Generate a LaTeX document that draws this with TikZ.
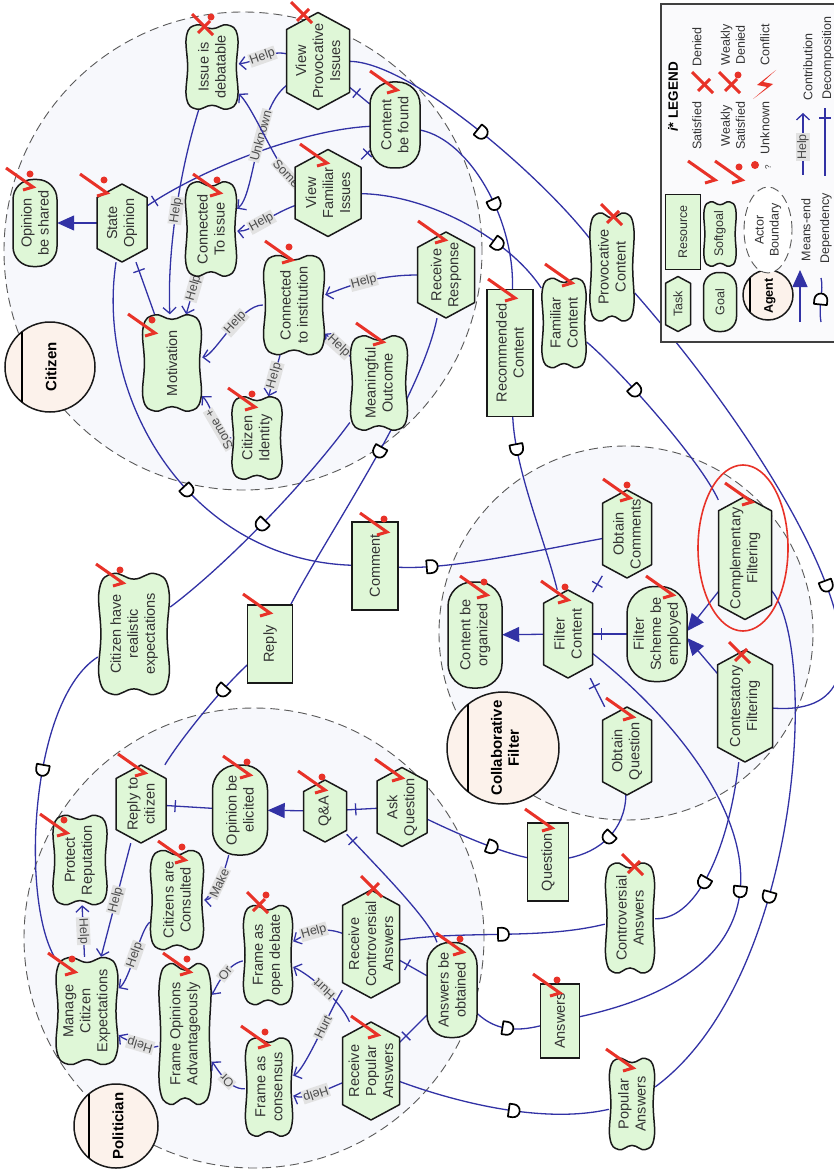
\documentclass[tikz,border=0pt]{standalone}
\usepackage{fontspec}
\setmainfont{Liberation Sans}
\usetikzlibrary{arrows.meta,decorations.markings}
\pgfdeclarelayer{bg}
\pgfdeclarelayer{lnk}
\pgfsetlayers{bg,lnk,main}
\definecolor{iblue}{RGB}{50,50,165}
\definecolor{ngreen}{RGB}{223,247,215}
\definecolor{bfill}{RGB}{247,248,252}
\definecolor{afill}{RGB}{252,242,235}
\definecolor{mred}{RGB}{232,50,40}
\definecolor{lgray}{RGB}{226,226,226}
\definecolor{legbg}{RGB}{250,250,252}
\newcommand\nodefont{\fontsize{14.5}{17}\selectfont}
\newcommand\legfont{\fontsize{12.5}{15}\selectfont}
\newcommand\dsym{\draw[black,line width=1.7pt,fill=white,line join=round] (-4.5pt,-6.5pt) -- (0pt,-6.5pt) arc[start angle=-90,end angle=90,radius=6.5pt] -- (-4.5pt,6.5pt) -- cycle;}
\tikzset{
  shp/.style={fill=ngreen, draw=black!90, line width=1.5pt, line join=round},
  txt/.style={rotate=90, align=center, inner sep=0pt, text=black!80, font=\nodefont},
  legtxt/.style={rotate=90, align=center, inner sep=0pt, text=black!80, font=\legfont},
  lk/.style={draw=iblue, line width=1.3pt},
  help/.style={lk, -{Straight Barb[length=6pt,width=13pt]}},
  meansend/.style={lk, -{Triangle[length=17pt,width=15pt]}},
  lbl/.style={fill=lgray, text=black!70, font=\fontsize{12.5}{13}\selectfont, inner sep=1pt, sloped},
  decomp/.style={lk, postaction={decorate}, decoration={markings, mark=at position 9pt with {\draw[iblue, line width=1.3pt] (0pt,-6pt) -- (0pt,6pt);}}},
  dep/.style={lk, postaction={decorate}, decoration={markings, mark=at position #1 with {\dsym}}},
  bdry/.style={fill=bfill, draw=black!65, line width=0.9pt, dash pattern=on 9pt off 5pt},
  agent/.style={fill=afill, draw=black!90, line width=1.5pt},
  agtxt/.style={rotate=90, align=center, inner sep=0pt, font=\fontsize{15}{17}\selectfont\bfseries},
  mk/.style={draw=mred, line width=3pt},
}
\newcommand\goalnode[6]{%
  \pgfmathsetmacro\gkr{0.45*#4}%
  \filldraw[shp, rounded corners=\gkr pt] (#2-#4/2,#3-#5/2) rectangle (#2+#4/2,#3+#5/2);
  \node[txt, minimum width=#5pt, minimum height=#4pt] (#1) at (#2,#3) {#6};}
\newcommand\tasknode[6]{%
  \pgfmathsetmacro\tkd{0.27*#4}%
  \filldraw[shp] (#2-#4/2,#3-#5/2+\tkd) -- (#2,#3-#5/2) -- (#2+#4/2,#3-#5/2+\tkd) -- (#2+#4/2,#3+#5/2-\tkd) -- (#2,#3+#5/2) -- (#2-#4/2,#3+#5/2-\tkd) -- cycle;
  \node[txt, minimum width=#5pt, minimum height=#4pt] (#1) at (#2,#3) {#6};}
\newcommand\resnode[6]{%
  \filldraw[shp, line join=miter] (#2-#4/2,#3-#5/2) rectangle (#2+#4/2,#3+#5/2);
  \node[txt, minimum width=#5pt, minimum height=#4pt] (#1) at (#2,#3) {#6};}
\newcommand\sgoal[6]{%
  \pgfmathsetmacro\sgx{#4/2}\pgfmathsetmacro\sgy{#5/2}%
  \filldraw[shp, shift={(#2,#3)}, xscale=\sgx, yscale=\sgy] plot[smooth cycle, tension=0.75] coordinates {(0,-0.9) (0.58,-0.99) (0.96,-0.74) (0.92,0) (0.96,0.74) (0.58,0.99) (0,0.9) (-0.58,0.99) (-0.96,0.74) (-0.92,0) (-0.96,-0.74) (-0.58,-0.99)};
  \node[txt, minimum width=#5pt, minimum height=#4pt] (#1) at (#2,#3) {#6};}
\newcommand\satm[2]{\draw[mk] (#1-27,#2-19) -- (#1,#2) -- (#1-10,#2+3);}
\newcommand\wsatm[2]{\satm{#1}{#2}\fill[mred] (#1-3,#2-13) circle[radius=3.5pt];}
\newcommand\denm[2]{\draw[mk] (#1-21,#2-21) -- (#1,#2); \draw[mk] (#1-15,#2-2) -- (#1-3,#2-14);}
\newcommand\wdenm[2]{\denm{#1}{#2}\fill[mred] (#1-2,#2-18) circle[radius=3.5pt];}

\begin{document}
\begin{tikzpicture}[x=1pt,y=-1pt]
\useasboundingbox (0,0) rectangle (834,1169);
\begin{pgfonlayer}{bg}
\fill[white] (0,0) rectangle (834,1169);
\filldraw[bdry] (243,251) circle[radius=239pt];
\filldraw[bdry] (626,633) circle[radius=187pt];
\filldraw[bdry] (254,938) circle[radius=230pt];
\end{pgfonlayer}

% agents
\filldraw[agent] (50,367) circle[radius=45pt];
\draw[line width=1.5pt] (22,332) -- (22,402);
\node[agtxt] (citizen) at (51,367) {Citizen};
\filldraw[agent] (503,748) circle[radius=56pt];
\draw[line width=1.5pt] (468,704) -- (468,792);
\node[agtxt] (collab) at (505,748) {Collaborative\\Filter};
\filldraw[agent] (116,1126) circle[radius=42pt];
\draw[line width=1.5pt] (89,1094) -- (89,1158);
\node[agtxt] (politician) at (118,1126) {Politician};

% Citizen
\goalnode{OBS}{35}{223}{44}{87}{Opinion\\be shared}
\tasknode{SO}{122}{223}{50}{78}{State\\Opinion}
\sgoal{IsD}{212}{67}{53}{85}{Issue is\\debatable}
\tasknode{VPI}{318}{61}{63}{97}{View\\Provocative\\Issues}
\goalnode{CBF}{395}{125}{50}{86}{Content\\be found}
\tasknode{VFI}{328}{193}{66}{87}{View\\Familiar\\Issues}
\sgoal{CTI}{211}{229}{52}{95}{Connected\\To issue}
\sgoal{CtI}{294}{305}{62}{100}{Connected\\to institution}
\sgoal{Mot}{172}{363}{60}{97}{Motivation}
\sgoal{CI}{257}{438}{51}{83}{Citizen\\Identity}
\sgoal{MO}{379}{383}{58}{95}{Meaningful\\Outcome}
\tasknode{RR}{446}{275}{57}{86}{Receive\\Response}
% dependums
\resnode{RC}{510}{353}{46}{127}{Recommended\\Content}
\sgoal{FamC}{564}{323}{45}{90}{Familiar\\Content}
\sgoal{PC}{612}{267}{45}{109}{Provocative\\Content}
\sgoal{CHRE}{134}{634}{72}{122}{Citizen have\\realistic\\expectations}
\resnode{Reply}{270}{644}{45}{78}{Reply}
\resnode{Comment}{375}{566}{46}{88}{Comment}
% Collaborative filter
\goalnode{CbO}{475}{635}{54}{106}{Content be\\organized}
\tasknode{FiltC}{568}{634}{49}{88}{Filter\\Content}
\goalnode{FSE}{657}{634}{60}{95}{Filter\\Scheme be\\employed}
\tasknode{OC}{627}{534}{49}{88}{Obtain\\Comments}
\tasknode{OQ}{627}{751}{49}{88}{Obtain\\Question}
\tasknode{CompF}{745}{558}{53}{123}{Complementary\\Filtering}
\tasknode{ContF}{745}{706}{55}{112}{Contestatory\\Filtering}
% Politician
\sgoal{MCE}{87}{1011}{63}{108}{Manage\\Citizen\\Expectations}
\sgoal{PR}{80}{860}{55}{90}{Protect\\Reputation}
\tasknode{RtC}{141}{804}{50}{78}{Reply to\\citizen}
\goalnode{OBE}{240}{810}{55}{90}{Opinion be\\elicited}
\tasknode{QA}{325}{811}{43}{62}{Q\&A}
\tasknode{AskQ}{402}{807}{50}{79}{Ask\\Question}
\sgoal{CAC}{177}{900}{54}{100}{Citizens are\\Consulted}
\sgoal{FOA}{185}{1034}{53}{142}{Frame Opinions\\Advantageously}
\sgoal{FOD}{268}{955}{50}{100}{Frame as\\open debate}
\sgoal{FAC}{269}{1087}{48}{99}{Frame as\\consensus}
\tasknode{RCA}{371}{944}{57}{108}{Receive\\Controversial\\Answers}
\tasknode{RPA}{371}{1071}{57}{98}{Receive\\Popular\\Answers}
\goalnode{AbO}{452}{990}{50}{95}{Answers be\\obtained}
\resnode{Question}{548}{862}{41}{78}{Question}
\sgoal{CA}{630}{918}{50}{111}{Controversial\\Answers}
\resnode{Answers}{560}{1021}{39}{74}{Answers}
\sgoal{PopA}{632}{1104}{46}{92}{Popular\\Answers}

\begin{pgfonlayer}{lnk}
% citizen internal
\draw[meansend] (SO) -- (OBS);
\draw[help] (VPI) .. controls (270,50) and (255,62) .. (IsD) node[lbl,pos=0.5]{Help};
\draw[decomp] (VPI) -- (CBF);
\draw[decomp] (VFI) -- (CBF);
\draw[decomp] (SO) .. controls (200,170) and (300,130) .. (CBF);
\draw[help] (VPI) .. controls (255,110) and (255,195) .. (CTI) node[lbl,pos=0.4]{Unknown};
\draw[help] (VFI) .. controls (280,175) and (255,110) .. (IsD) node[lbl,pos=0.12]{Some -};
\draw[help] (VFI) .. controls (270,215) and (250,232) .. (CTI) node[lbl,pos=0.5]{Help};
\draw[help] (IsD) .. controls (180,170) and (167,250) .. (Mot) node[lbl,pos=0.5]{Help};
\draw[help] (CTI) -- (Mot) node[lbl,pos=0.3]{Help};
\draw[help] (CtI) .. controls (240,305) and (215,355) .. (Mot) node[lbl,pos=0.4]{Help};
\draw[help] (CtI) -- (CI) node[lbl,pos=0.5]{Help};
\draw[help] (CI) .. controls (215,438) and (215,410) .. (Mot) node[lbl,pos=0.35,allow upside down]{Some +};
\draw[help] (RR) .. controls (370,275) and (340,290) .. (CtI) node[lbl,pos=0.45]{Help};
\draw[help] (MO) -- (CtI) node[lbl,pos=0.45]{Help};
\draw[decomp] (SO) -- (Mot);
% dependencies
\draw[dep=0.57] (SO) .. controls (95,400) and (190,560) .. (Comment);
\draw[dep=0.52] (MO) .. controls (300,490) and (220,570) .. (CHRE);
\draw[dep=0.45] (RR) .. controls (420,400) and (330,530) .. (Reply);
\draw[dep=0.27] (Reply) .. controls (220,690) and (180,740) .. (RtC);
\draw[dep=0.4] (CHRE) .. controls (30,700) and (20,900) .. (MCE);
\draw[dep=0.16] (Comment) .. controls (450,570) and (540,550) .. (OC);
\draw[dep=0.5] (VPI) .. controls (410,62) and (540,175) .. (PC);
\draw[dep=0.55] (CBF) .. controls (470,140) and (515,220) .. (RC);
\draw[dep=0.7] (VFI) .. controls (430,195) and (510,240) .. (FamC);
\draw[dep=0.18] (RC) .. controls (515,470) and (545,540) .. (FiltC);
\draw[dep=0.33] (FamC) .. controls (620,370) and (700,460) .. (CompF);
\draw[dep=0.67] (PC) .. controls (790,470) and (930,720) .. (ContF);
\draw[dep=0.58] (CompF) .. controls (820,650) and (800,980) .. (PopA);
\draw[dep=0.66] (ContF) .. controls (730,840) and (700,920) .. (CA);
\draw[dep=0.57] (FiltC) .. controls (740,770) and (840,960) .. (Answers);
\draw[dep=0.5] (OQ) .. controls (625,830) and (600,852) .. (Question);
\draw[dep=0.65] (AskQ) .. controls (460,835) and (500,852) .. (Question);
\draw[dep=0.5] (RCA) .. controls (470,930) and (540,940) .. (CA);
\draw[dep=0.5] (AbO) .. controls (495,1030) and (515,1032) .. (Answers);
\draw[dep=0.55] (RPA) .. controls (450,1100) and (540,1125) .. (PopA);
% collaborative filter internal
\draw[meansend] (FiltC) -- (CbO);
\draw[decomp] (FiltC) -- (FSE);
\draw[decomp] (FiltC) -- (OC);
\draw[decomp] (FiltC) -- (OQ);
\draw[meansend] (CompF) -- ([yshift=3pt]FSE.south);
\draw[meansend] (ContF) -- ([yshift=-4pt]FSE.south);
% politician internal
\draw[decomp] (QA) -- (AskQ);
\draw[meansend] (QA) -- (OBE);
\draw[decomp] (RtC) -- (OBE);
\draw[help] (OBE) .. controls (225,870) and (215,900) .. (CAC) node[lbl,pos=0.5]{Make};
\draw[help] (RtC) -- (MCE) node[lbl,pos=0.5]{Help};
\draw[help] (CAC) .. controls (140,930) and (130,980) .. (MCE) node[lbl,pos=0.5]{Help};
\draw[help] (MCE) -- (PR) node[lbl,pos=0.5]{Help};
\draw[help] (FOA) .. controls (150,1050) and (125,1040) .. (MCE) node[lbl,pos=0.45,allow upside down]{Help};
\draw[help] (FOD) .. controls (225,965) and (215,990) .. (FOA) node[lbl,pos=0.4]{Or};
\draw[help] (FAC) .. controls (228,1090) and (215,1065) .. (FOA) node[lbl,pos=0.4,allow upside down]{Or};
\draw[help] (RCA) .. controls (320,925) and (305,935) .. (FOD) node[lbl,pos=0.5]{Help};
\draw[help] (RCA) .. controls (330,1010) and (305,1070) .. (FAC) node[lbl,pos=0.4]{Hurt};
\draw[help] (RPA) .. controls (340,1000) and (310,975) .. (FOD) node[lbl,pos=0.5,allow upside down]{Hurt};
\draw[help] (RPA) .. controls (325,1090) and (305,1100) .. (FAC) node[lbl,pos=0.5,allow upside down]{Help};
\draw[decomp] (RCA) -- (AbO);
\draw[decomp] (RPA) -- (AbO);
\draw[decomp] (QA) .. controls (380,870) and (430,920) .. (AbO);
\end{pgfonlayer}

% evaluation marks
\wsatm{33}{187}\wsatm{107}{193}\wdenm{213}{35}\denm{312}{23}\satm{397}{90}\satm{327}{163}
\wsatm{220}{193}\wsatm{292}{260}\wsatm{155}{333}\wsatm{255}{407}\satm{383}{342}\satm{445}{240}
\satm{515}{298}\satm{572}{283}\denm{622}{225}\wsatm{123}{583}\satm{270}{613}\wsatm{387}{532}
\wsatm{487}{595}\wsatm{568}{600}\satm{673}{595}\wsatm{630}{498}\satm{633}{717}\satm{752}{502}\denm{750}{663}
\wsatm{75}{972}\wsatm{67}{833}\satm{145}{773}\wsatm{250}{775}\wsatm{325}{790}\satm{402}{778}
\wsatm{185}{860}\wsatm{190}{972}\wdenm{268}{913}\wsatm{268}{1045}\denm{382}{897}\satm{378}{1035}
\wsatm{463}{952}\satm{552}{828}\denm{643}{875}\wsatm{560}{993}\satm{633}{1068}

% highlight
\draw[draw=mred, line width=1.6pt] (743,548) ellipse[x radius=45pt, y radius=83pt];

% legend
\draw[line width=1.8pt, draw=black!75, fill=legbg] (661,4) rectangle (850,342);
\node[rotate=90, inner sep=0pt, font=\fontsize{13.5}{15}\selectfont\bfseries] (legtitle) at (673,97) {\textit{i*} LEGEND};
\node[legtxt] (lsat) at (697,126) {Satisfied};
\node[legtxt] (lden) at (697,47) {Denied};
\node[legtxt] (lwsat) at (733,126) {Weakly\\Satisfied};
\node[legtxt] (lwden) at (733,45) {Weakly\\Denied};
\node[legtxt] (lunk) at (765,128) {Unknown};
\node[legtxt] (lcon) at (765,45) {Conflict};
\node[legtxt] (lcontr) at (808,67) {Contribution};
\node[legtxt] (ldec) at (828,58) {Decomposition};
\node[legtxt] (lme) at (806,230) {Means-end};
\node[legtxt] (ldep) at (826,228) {Dependency};
\satm{715}{180}\denm{713}{93}\wsatm{742}{180}\wdenm{740}{93}
\fill[mred] (755,165) circle[radius=4pt];
\node[legtxt, font=\fontsize{8}{9}\selectfont] (lq) at (768,167) {?};
\fill[mred] (776,70) -- (757,85) -- (767,87) -- (753,99) -- (773,84) -- (763,82) -- cycle;
\tasknode{lgT}{678}{304}{25}{55}{{\legfont Task}}
\resnode{lgR}{683}{232}{35}{75}{{\legfont Resource}}
\goalnode{lgG}{720}{302}{33}{59}{{\legfont Goal}}
\sgoal{lgS}{720}{234}{33}{65}{{\legfont Softgoal}}
\filldraw[agent] (768,295) circle[radius=25pt];
\draw[line width=1.5pt] (750,278) -- (750,312);
\node[rotate=90, inner sep=0pt, font=\legfont\bfseries] (lagent) at (770,296) {Agent};
\draw[bdry, fill=white] (768,230) ellipse[x radius=24pt, y radius=43pt];
\node[legtxt] (lab) at (768,230) {Actor\\Boundary};
\coordinate (lm1) at (800,322); \coordinate (lm2) at (800,270);
\draw[meansend] (lm1) -- (lm2);
\coordinate (lh1) at (803,175); \coordinate (lh2) at (803,113);
\draw[help] (lh1) -- (lh2) node[lbl,pos=0.45]{Help};
\coordinate (ld1) at (825,176); \coordinate (ld2) at (825,108);
\draw[lk] (ld1) -- (ld2);
\draw[lk] (819,118) -- (831,118);
\coordinate (lp1) at (821,322); \coordinate (lp2) at (821,278);
\draw[dep=0.5] (lp1) .. controls (818,305) and (824,290) .. (lp2);
\end{tikzpicture}
\end{document}
